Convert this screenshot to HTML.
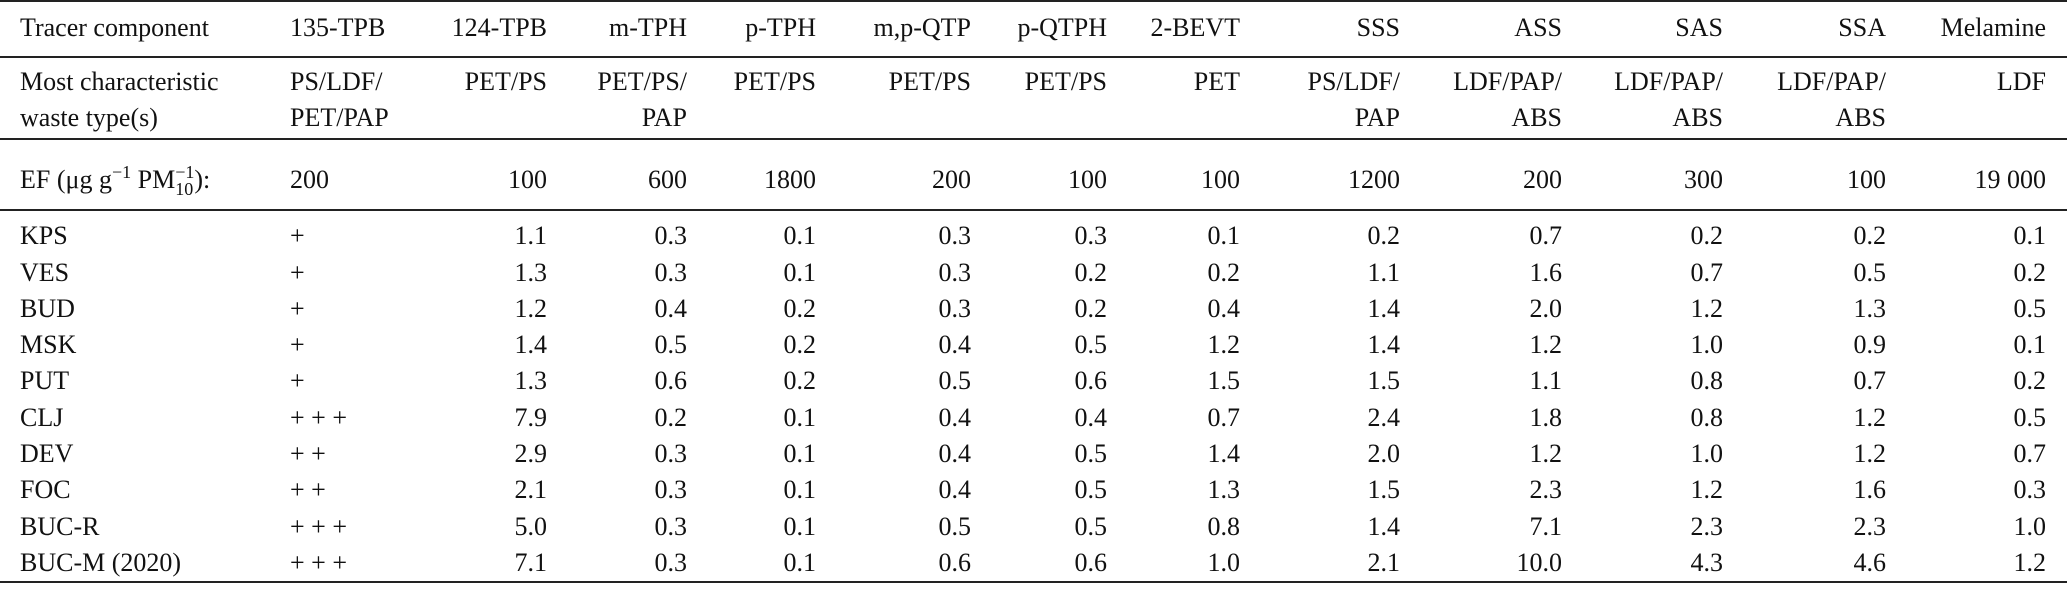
<!DOCTYPE html>
<html><head><meta charset="utf-8"><style>
body{margin:0;background:#fff;}
#t{position:relative;width:2067px;height:592px;font-family:"Liberation Serif",serif;font-size:26px;color:#111;overflow:hidden;}
.r{position:absolute;left:0;width:2067px;height:36px;line-height:36px;}
.r span.a{position:absolute;white-space:nowrap;}
.l0{left:20px}.l1{left:290px}
.c2{right:1520px}.c3{right:1380px}.c4{right:1251px}.c5{right:1096px}.c6{right:960px}.c7{right:827px}.c8{right:667px}.c9{right:505px}.c10{right:344px}.c11{right:181px}.c12{right:21px}
.hl{position:absolute;left:0;width:2067px;height:2px;background:#222;}
.st{display:inline-block;vertical-align:-7px;font-size:18px;line-height:17px;text-align:left;}
.sp{font-size:18px;position:relative;top:-10px;}
</style></head><body><div id="t">
<div class="hl" style="top:0"></div>
<div class="hl" style="top:56px"></div>
<div class="hl" style="top:138px"></div>
<div class="hl" style="top:209px"></div>
<div class="hl" style="top:581px"></div>

<div class="r" style="top:10px"><span class="a l0">Tracer component</span><span class="a l1">135-TPB</span><span class="a c2">124-TPB</span><span class="a c3">m-TPH</span><span class="a c4">p-TPH</span><span class="a c5">m,p-QTP</span><span class="a c6">p-QTPH</span><span class="a c7">2-BEVT</span><span class="a c8">SSS</span><span class="a c9">ASS</span><span class="a c10">SAS</span><span class="a c11">SSA</span><span class="a c12">Melamine</span></div>

<div class="r" style="top:64px"><span class="a l0">Most characteristic</span><span class="a l1">PS/LDF/</span><span class="a c2">PET/PS</span><span class="a c3">PET/PS/</span><span class="a c4">PET/PS</span><span class="a c5">PET/PS</span><span class="a c6">PET/PS</span><span class="a c7">PET</span><span class="a c8">PS/LDF/</span><span class="a c9">LDF/PAP/</span><span class="a c10">LDF/PAP/</span><span class="a c11">LDF/PAP/</span><span class="a c12">LDF</span></div>
<div class="r" style="top:100px"><span class="a l0">waste type(s)</span><span class="a l1">PET/PAP</span><span class="a c3">PAP</span><span class="a c8">PAP</span><span class="a c9">ABS</span><span class="a c10">ABS</span><span class="a c11">ABS</span></div>

<div class="r" style="top:162px"><span class="a l0">EF (μg g<span class="sp">−1</span> PM<span class="st">−1<br>10</span>):</span><span class="a l1">200</span><span class="a c2">100</span><span class="a c3">600</span><span class="a c4">1800</span><span class="a c5">200</span><span class="a c6">100</span><span class="a c7">100</span><span class="a c8">1200</span><span class="a c9">200</span><span class="a c10">300</span><span class="a c11">100</span><span class="a c12">19 000</span></div>

<div class="r" style="top:218px"><span class="a l0">KPS</span><span class="a l1">+</span><span class="a c2">1.1</span><span class="a c3">0.3</span><span class="a c4">0.1</span><span class="a c5">0.3</span><span class="a c6">0.3</span><span class="a c7">0.1</span><span class="a c8">0.2</span><span class="a c9">0.7</span><span class="a c10">0.2</span><span class="a c11">0.2</span><span class="a c12">0.1</span></div>
<div class="r" style="top:255px"><span class="a l0">VES</span><span class="a l1">+</span><span class="a c2">1.3</span><span class="a c3">0.3</span><span class="a c4">0.1</span><span class="a c5">0.3</span><span class="a c6">0.2</span><span class="a c7">0.2</span><span class="a c8">1.1</span><span class="a c9">1.6</span><span class="a c10">0.7</span><span class="a c11">0.5</span><span class="a c12">0.2</span></div>
<div class="r" style="top:291px"><span class="a l0">BUD</span><span class="a l1">+</span><span class="a c2">1.2</span><span class="a c3">0.4</span><span class="a c4">0.2</span><span class="a c5">0.3</span><span class="a c6">0.2</span><span class="a c7">0.4</span><span class="a c8">1.4</span><span class="a c9">2.0</span><span class="a c10">1.2</span><span class="a c11">1.3</span><span class="a c12">0.5</span></div>
<div class="r" style="top:327px"><span class="a l0">MSK</span><span class="a l1">+</span><span class="a c2">1.4</span><span class="a c3">0.5</span><span class="a c4">0.2</span><span class="a c5">0.4</span><span class="a c6">0.5</span><span class="a c7">1.2</span><span class="a c8">1.4</span><span class="a c9">1.2</span><span class="a c10">1.0</span><span class="a c11">0.9</span><span class="a c12">0.1</span></div>
<div class="r" style="top:363px"><span class="a l0">PUT</span><span class="a l1">+</span><span class="a c2">1.3</span><span class="a c3">0.6</span><span class="a c4">0.2</span><span class="a c5">0.5</span><span class="a c6">0.6</span><span class="a c7">1.5</span><span class="a c8">1.5</span><span class="a c9">1.1</span><span class="a c10">0.8</span><span class="a c11">0.7</span><span class="a c12">0.2</span></div>
<div class="r" style="top:400px"><span class="a l0">CLJ</span><span class="a l1">+ + +</span><span class="a c2">7.9</span><span class="a c3">0.2</span><span class="a c4">0.1</span><span class="a c5">0.4</span><span class="a c6">0.4</span><span class="a c7">0.7</span><span class="a c8">2.4</span><span class="a c9">1.8</span><span class="a c10">0.8</span><span class="a c11">1.2</span><span class="a c12">0.5</span></div>
<div class="r" style="top:436px"><span class="a l0">DEV</span><span class="a l1">+ +</span><span class="a c2">2.9</span><span class="a c3">0.3</span><span class="a c4">0.1</span><span class="a c5">0.4</span><span class="a c6">0.5</span><span class="a c7">1.4</span><span class="a c8">2.0</span><span class="a c9">1.2</span><span class="a c10">1.0</span><span class="a c11">1.2</span><span class="a c12">0.7</span></div>
<div class="r" style="top:472px"><span class="a l0">FOC</span><span class="a l1">+ +</span><span class="a c2">2.1</span><span class="a c3">0.3</span><span class="a c4">0.1</span><span class="a c5">0.4</span><span class="a c6">0.5</span><span class="a c7">1.3</span><span class="a c8">1.5</span><span class="a c9">2.3</span><span class="a c10">1.2</span><span class="a c11">1.6</span><span class="a c12">0.3</span></div>
<div class="r" style="top:509px"><span class="a l0">BUC-R</span><span class="a l1">+ + +</span><span class="a c2">5.0</span><span class="a c3">0.3</span><span class="a c4">0.1</span><span class="a c5">0.5</span><span class="a c6">0.5</span><span class="a c7">0.8</span><span class="a c8">1.4</span><span class="a c9">7.1</span><span class="a c10">2.3</span><span class="a c11">2.3</span><span class="a c12">1.0</span></div>
<div class="r" style="top:545px"><span class="a l0">BUC-M (2020)</span><span class="a l1">+ + +</span><span class="a c2">7.1</span><span class="a c3">0.3</span><span class="a c4">0.1</span><span class="a c5">0.6</span><span class="a c6">0.6</span><span class="a c7">1.0</span><span class="a c8">2.1</span><span class="a c9">10.0</span><span class="a c10">4.3</span><span class="a c11">4.6</span><span class="a c12">1.2</span></div>
</div></body></html>
